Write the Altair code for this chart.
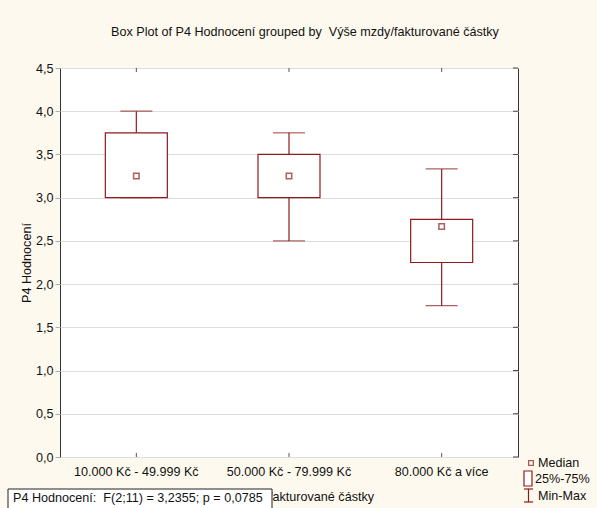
import altair as alt
import pandas as pd

categories = ["10.000 Kč - 49.999 Kč", "50.000 Kč - 79.999 Kč", "80.000 Kč a více"]
mins = [3.0, 2.5, 1.75]
q1s = [3.0, 3.0, 2.25]
medians = [3.25, 3.25, 2.667]
q3s = [3.75, 3.5, 2.75]
maxs = [4.0, 3.75, 3.333]
y_ticks = [0.0, 0.5, 1.0, 1.5, 2.0, 2.5, 3.0, 3.5, 4.0, 4.5]

title_text = "Box Plot of P4 Hodnocení grouped by\u00a0 Výše mzdy/fakturované částky"
y_title = "P4 Hodnocení"
x_title = "Výše mzdy/fakturované částky"
stats_text = "P4 Hodnocení:\u00a0 F(2;11) = 3,2355; p = 0,0785"
legend_labels = ["Median", "25%-75%", "Min-Max"]

FONT = "Liberation Sans"
FS = 12.6
RED = "#8E1B1B"
CREAM = "#FEF9EE"

df = pd.DataFrame({"cat": categories, "mn": mins, "q1": q1s, "med": medians,
                   "q3": q3s, "mx": maxs})
ticks_df = pd.DataFrame({"v": y_ticks})

x_enc = alt.X("cat:N", sort=categories,
              scale=alt.Scale(paddingInner=0, paddingOuter=0),
              axis=alt.Axis(title=None, labelAngle=0, ticks=False, domain=False,
                            labelPadding=8, labelFont=FONT, labelFontSize=FS,
                            labelColor="#111", grid=False))
y_scale = alt.Scale(domain=[0, 4.5], nice=False, zero=False)
y_axis = alt.Axis(values=y_ticks, labelExpr="replace(format(datum.value, '.1f'), '.', ',')",
                  tickSize=5, tickColor="#aaaaaa", grid=True, gridColor="#dddddd",
                  domain=False, labelFont=FONT, labelFontSize=FS, labelColor="#111",
                  labelPadding=2, title=y_title, titleFont=FONT, titleFontSize=FS,
                  titleFontWeight="normal", titleColor="#111", titlePadding=2)

base = alt.Chart(df)

box = base.mark_bar(size=62, fill="white", stroke=RED, strokeWidth=1.2).encode(
    x=x_enc, y=alt.Y("q1:Q", scale=y_scale, axis=y_axis), y2="q3:Q")
upper = base.mark_rule(color=RED, strokeWidth=1.2).encode(
    x=alt.X("cat:N", sort=categories), y="q3:Q", y2="mx:Q")
lower = base.mark_rule(color=RED, strokeWidth=1.2).encode(
    x=alt.X("cat:N", sort=categories), y="mn:Q", y2="q1:Q")
cap_hi = base.mark_tick(color=RED, size=32, thickness=1.2).encode(
    x=alt.X("cat:N", sort=categories), y="mx:Q")
cap_lo = base.mark_tick(color=RED, size=32, thickness=1.2).encode(
    x=alt.X("cat:N", sort=categories), y="mn:Q")
med = base.mark_point(shape="square", size=30, filled=False, color=RED,
                      strokeWidth=1.5).encode(
    x=alt.X("cat:N", sort=categories), y="med:Q")

top_ticks = base.mark_rule(color="#555", strokeWidth=1).encode(
    x=alt.X("cat:N", sort=categories), y=alt.value(0), y2=alt.value(4))
bot_ticks = base.mark_rule(color="#555", strokeWidth=1).encode(
    x=alt.X("cat:N", sort=categories), y=alt.value(389), y2=alt.value(385))
right_ticks = alt.Chart(ticks_df).mark_rule(color="#444", strokeWidth=1).encode(
    y="v:Q", x=alt.value(458), x2=alt.value(453))

xt = alt.Chart(pd.DataFrame({"t": [x_title]})).mark_text(
    font=FONT, fontSize=FS, color="#111", align="center", baseline="middle").encode(
    text="t:N", x=alt.value(229), y=alt.value(429))
stat_box = alt.Chart(pd.DataFrame({"t": [1]})).mark_rect(
    fill="white", stroke="#222", strokeWidth=1).encode(
    x=alt.value(-52), x2=alt.value(212), y=alt.value(421), y2=alt.value(445))
stat_txt = alt.Chart(pd.DataFrame({"t": [stats_text]})).mark_text(
    font=FONT, fontSize=FS, color="#111", align="left", baseline="middle").encode(
    text="t:N", x=alt.value(-47), y=alt.value(430))

leg_med = alt.Chart(pd.DataFrame({"t": [1]})).mark_point(
    shape="square", size=22, filled=False, color=RED, strokeWidth=1.3).encode(
    x=alt.value(471), y=alt.value(395))
leg_box = alt.Chart(pd.DataFrame({"t": [1]})).mark_rect(
    fill="white", stroke=RED, strokeWidth=1.2).encode(
    x=alt.value(464), x2=alt.value(472), y=alt.value(403), y2=alt.value(418))
leg_wv = alt.Chart(pd.DataFrame({"t": [1]})).mark_rule(color=RED, strokeWidth=1.2).encode(
    x=alt.value(468.5), y=alt.value(421), y2=alt.value(434))
leg_wt = alt.Chart(pd.DataFrame({"t": [1]})).mark_rule(color=RED, strokeWidth=1.2).encode(
    x=alt.value(464), x2=alt.value(473), y=alt.value(421))
leg_wb = alt.Chart(pd.DataFrame({"t": [1]})).mark_rule(color=RED, strokeWidth=1.2).encode(
    x=alt.value(464), x2=alt.value(473), y=alt.value(434))
leg_txt = alt.Chart(pd.DataFrame({"t": legend_labels, "x": [478, 475, 478],
                                  "y": [395, 411, 428]})).mark_text(
    font=FONT, fontSize=FS, color="#111", align="left", baseline="middle").encode(
    text="t:N", x=alt.X("x:Q", scale=None), y=alt.Y("y:Q", scale=None))

chart = alt.layer(
    box, upper, lower, cap_hi, cap_lo, med, top_ticks, bot_ticks, right_ticks,
    xt, stat_box, stat_txt, leg_med, leg_box, leg_wv, leg_wt, leg_wb, leg_txt
).properties(
    width=458, height=389,
    title=alt.TitleParams(title_text, font=FONT, fontSize=FS, fontWeight="normal",
                          color="#111", dx=16, offset=23, anchor="middle", frame="group"),
    padding={"left": 60, "top": 68, "right": 79, "bottom": 51},
    autosize="none", background=CREAM
).configure_view(fill="white", stroke="#333", strokeWidth=1)

chart.save("out.html", embed_options={"renderer": "svg", "actions": False})
